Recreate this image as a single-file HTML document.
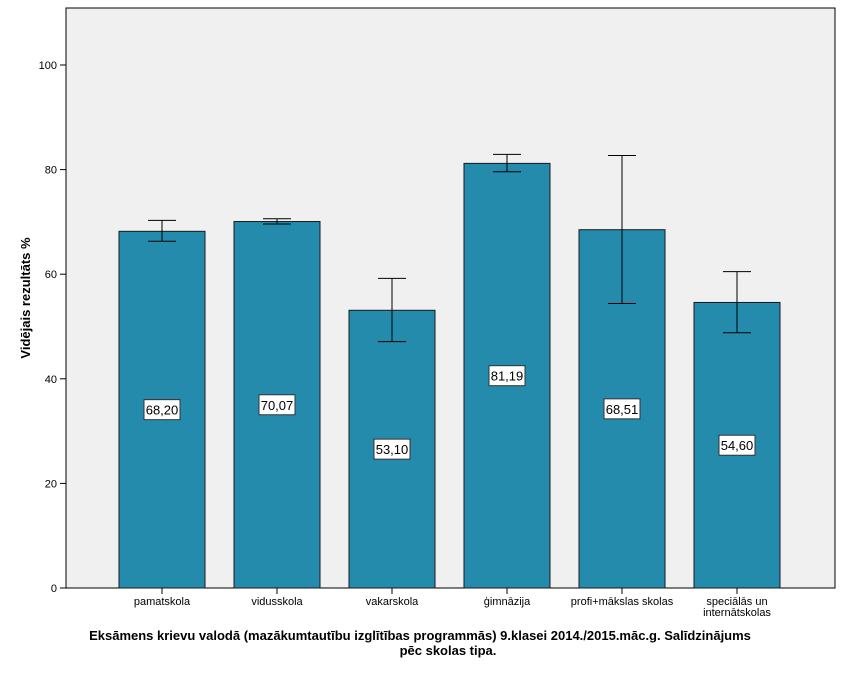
<!DOCTYPE html>
<html><head><meta charset="utf-8"><style>
body{margin:0;background:#fff;}
svg{display:block;font-family:"Liberation Sans",sans-serif;}
</style></head><body>
<svg id="chart" width="841" height="673" xmlns="http://www.w3.org/2000/svg">
<rect x="66" y="8" width="769" height="580" fill="#f0f0f0" stroke="#000" stroke-width="1"/>
<g id="yaxis"></g>
<g id="bars"></g>
<g id="xaxis"></g>
<text x="30" y="298" transform="rotate(-90 30 298)" text-anchor="middle" font-size="13" font-weight="bold">Vidējais rezultāts %</text>
<text x="420" y="640" text-anchor="middle" font-size="13" font-weight="bold">Eksāmens krievu valodā (mazākumtautību izglītības programmās) 9.klasei 2014./2015.māc.g. Salīdzinājums</text>
<text x="448" y="655" text-anchor="middle" font-size="13" font-weight="bold">pēc skolas tipa.</text>
</svg>
<script>
const categories = ["pamatskola","vidusskola","vakarskola","ģimnāzija","profi+mākslas skolas","speciālās un|internātskolas"];
const means = [68.20, 70.07, 53.10, 81.19, 68.51, 54.60];
const lowerCI = [66.3, 69.6, 47.1, 79.6, 54.4, 48.8];
const upperCI = [70.3, 70.6, 59.2, 82.9, 82.7, 60.5];
const valueLabels = ["68,20","70,07","53,10","81,19","68,51","54,60"];
const yTicks = [0, 20, 40, 60, 80, 100];

const NS = "http://www.w3.org/2000/svg";
const y = v => 588 - v * 5.23;
const xc = i => 162 + i * 115;
function mk(tag, attrs, parent, text){
  const e = document.createElementNS(NS, tag);
  for (const k in attrs) e.setAttribute(k, attrs[k]);
  if (text !== undefined) e.textContent = text;
  parent.appendChild(e); return e;
}
const ya = document.getElementById('yaxis');
yTicks.forEach(t => {
  const l = mk('line', {x1:60, x2:66, y1:y(t), y2:y(t), stroke:'#000'}, ya);
  
  
  const tx = mk('text', {x:57, y:y(t)+4, 'text-anchor':'end', 'font-size':11}, ya, String(t));
  
  
});
const bg = document.getElementById('bars');
const xa = document.getElementById('xaxis');
categories.forEach((c, i) => {
  const cx = xc(i);
  const b = mk('rect', {x:cx-43, y:y(means[i]), width:86, height:y(0)-y(means[i]), fill:'#248bac', stroke:'#1a1a1a', 'stroke-width':1}, bg);
  
  
  const e = mk('path', {d:`M${cx-14},${y(upperCI[i])}H${cx+14}M${cx},${y(upperCI[i])}V${y(lowerCI[i])}M${cx-14},${y(lowerCI[i])}H${cx+14}`, stroke:'#000', fill:'none', 'stroke-width':1}, bg);
  
  
  const my = y(means[i] / 2);
  const lb = mk('rect', {x:cx-18, y:my-10, width:36, height:20, fill:'#fff', stroke:'#333'}, bg);
  
  
  const lt = mk('text', {x:cx, y:my+5, 'text-anchor':'middle', 'font-size':13}, bg, valueLabels[i]);
  
  
  const tk = mk('line', {x1:cx, x2:cx, y1:588, y2:594, stroke:'#000'}, xa);
  
  
  c.split('|').forEach((part, j) => {
    const tt = mk('text', {x:cx, y:605 + j*11, 'text-anchor':'middle', 'font-size':11}, xa, part);
    
    
  });
});
</script>
</body></html>
